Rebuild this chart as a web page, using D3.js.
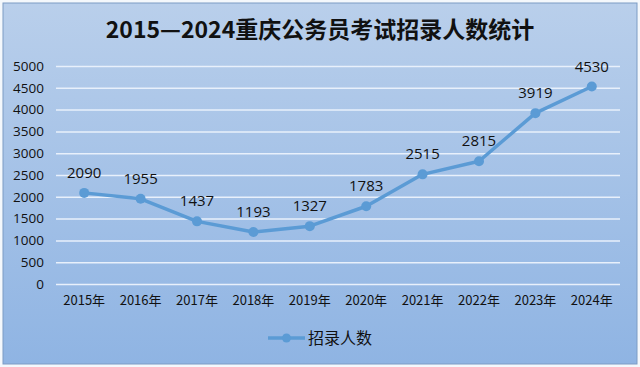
<!DOCTYPE html>
<html>
<head>
<meta charset="utf-8">
<script src="https://cdn.jsdelivr.net/npm/d3@7"></script>
<style>
  body { margin: 0; background: #f4f8fc; }
  svg { display: block; }
</style>
</head>
<body>
<svg id="chart"></svg>
<script>
// chart data
const years = ['2015年', '2016年', '2017年', '2018年', '2019年', '2020年', '2021年', '2022年', '2023年', '2024年'];
const recruits = [2090, 1955, 1437, 1193, 1327, 1783, 2515, 2815, 3919, 4530];
const yTicks = [0, 500, 1000, 1500, 2000, 2500, 3000, 3500, 4000, 4500, 5000];
const title = '2015—2024重庆公务员考试招录人数统计';
const seriesName = '招录人数';

const width = 640, height = 367;
const margin = {top: 66, right: 20, bottom: 83, left: 56};
const lineColor = '#5b9bd5';
const cjk = '"Noto Sans CJK SC", "Noto Sans", sans-serif';

const svg = d3.select('#chart')
    .attr('width', width)
    .attr('height', height);

// background with gradient
const defs = svg.append('defs');
const grad = defs.append('linearGradient')
    .attr('id', 'bg')
    .attr('x1', 0).attr('y1', 0).attr('x2', 0).attr('y2', 1);
grad.append('stop').attr('offset', '0%').attr('stop-color', '#b9cfeb');
grad.append('stop').attr('offset', '100%').attr('stop-color', '#8fb4e3');

svg.append('rect')
    .attr('x', 3).attr('y', 3)
    .attr('width', width - 6).attr('height', height - 6)
    .attr('fill', 'url(#bg)')
    .attr('stroke', '#7d9cc4')
    .attr('stroke-width', 1);

svg.append('text')
    .attr('x', width / 2)
    .attr('y', 38)
    .attr('text-anchor', 'middle')
    .attr('font-family', cjk)
    .attr('font-weight', 700)
    .attr('font-size', 23)
    .attr('fill', '#111')
    .text(title);

const innerW = width - margin.left - margin.right;
const innerH = height - margin.top - margin.bottom;

const chart = svg.append('g')
    .attr('transform', `translate(${margin.left},${margin.top})`);

const xScale = d3.scaleBand()
    .domain(years)
    .range([0, innerW]);

const yScale = d3.scaleLinear()
    .domain([0, 5000])
    .range([innerH, 0]);

// gridlines + y labels
const yAxis = d3.axisLeft(yScale)
    .tickValues(yTicks)
    .tickFormat(d3.format('d'))
    .tickSize(-innerW)
    .tickPadding(12);

const yAxisG = chart.append('g').call(yAxis);
yAxisG.select('.domain').remove();
yAxisG.selectAll('.tick line')
    .attr('stroke', '#e8f0fb')
    .attr('stroke-width', 1.5);
yAxisG.selectAll('.tick text')
    .attr('font-family', '"Open Sans", sans-serif')
    .attr('font-size', 13.5)
    .attr('fill', '#111');

// x labels
const xAxis = d3.axisBottom(xScale)
    .tickSize(0)
    .tickPadding(12);

const xAxisG = chart.append('g')
    .attr('transform', `translate(0,${innerH})`)
    .call(xAxis);
xAxisG.select('.domain').remove();
xAxisG.selectAll('.tick text')
    .attr('font-family', cjk)
    .attr('font-size', 13)
    .attr('fill', '#111');

const cx = (d, i) => xScale(years[i]) + xScale.bandwidth() / 2;

const line = d3.line()
    .x(cx)
    .y(d => yScale(d));

chart.append('path')
    .datum(recruits)
    .attr('fill', 'none')
    .attr('stroke', lineColor)
    .attr('stroke-width', 3.5)
    .attr('stroke-linejoin', 'round')
    .attr('d', line);

chart.selectAll('.point')
    .data(recruits)
  .join('circle')
    .attr('class', 'point')
    .attr('cx', cx)
    .attr('cy', d => yScale(d))
    .attr('r', 5)
    .attr('fill', lineColor);

chart.selectAll('.label')
    .data(recruits)
  .join('text')
    .attr('class', 'label')
    .attr('x', cx)
    .attr('y', d => yScale(d) - 15)
    .attr('text-anchor', 'middle')
    .attr('font-family', '"Open Sans", sans-serif')
    .attr('font-size', 15)
    .attr('fill', '#111')
    .text(d => d);

// legend
const legend = svg.append('g')
    .attr('transform', 'translate(268,338)');
legend.append('line')
    .attr('x1', 0).attr('x2', 37)
    .attr('stroke', lineColor)
    .attr('stroke-width', 3.5);
legend.append('circle')
    .attr('cx', 18.5)
    .attr('r', 4.5)
    .attr('fill', lineColor);
legend.append('text')
    .attr('x', 40)
    .attr('y', 6)
    .attr('font-family', cjk)
    .attr('font-size', 16)
    .attr('fill', '#111')
    .text(seriesName);
</script>
</body>
</html>
